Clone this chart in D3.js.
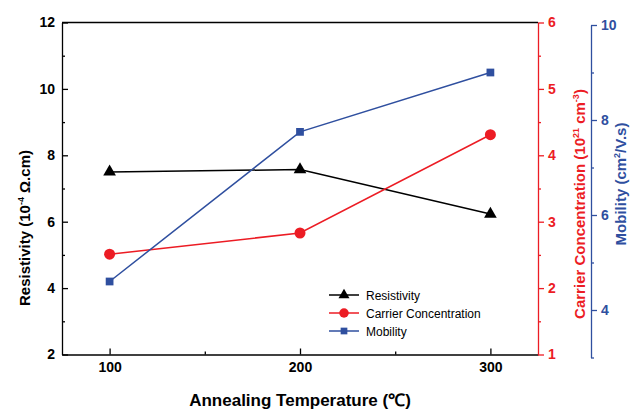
<!DOCTYPE html>
<html>
<head>
<meta charset="utf-8">
<script src="https://cdn.jsdelivr.net/npm/d3@7"></script>
<style>
body { margin: 0; background: #fff; }
text { font-family: "Liberation Sans", Arial, sans-serif; }
</style>
</head>
<body>
<div class="chart"></div>
<script>
var width = 634;
var height = 414;

// data
var temps = [100, 200, 300];
var resistivity = [7.5, 7.57, 6.23];
var carrier = [2.51, 2.83, 4.31];
var mobility = [4.6, 7.75, 9.0];

var xTicks = [100, 200, 300];
var xMinor = [150, 250];
var leftTicks = [2, 4, 6, 8, 10, 12];
var leftMinor = [3, 5, 7, 9, 11];
var redTicks = [1, 2, 3, 4, 5, 6];
var redMinor = [1.5, 2.5, 3.5, 4.5, 5.5];
var blueTicks = [4, 6, 8, 10];
var blueMinor = [3, 5, 7, 9];

var black = "#000";
var red = "#ec1c24";
var blue = "#2f4f9f";

var plot = { left: 62, right: 538, top: 22.5, bottom: 354.5 };

var svg = d3.select(".chart")
	.append("svg")
	.attr("width", width)
	.attr("height", height);

var x = d3.scaleLinear().domain([75, 325]).range([plot.left, plot.right]);
var yLeft = d3.scaleLinear().domain([2, 12]).range([plot.bottom, plot.top]);
var yRed = d3.scaleLinear().domain([1, 6]).range([plot.bottom, plot.top]);
var yBlue = d3.scaleLinear().domain([3, 10]).range([357.5, 25]);

var fmt = d3.format("d");

function styleAxis(g, color) {
	g.selectAll("path, line").attr("stroke", color).attr("stroke-width", 1.3);
	g.selectAll("text")
		.attr("fill", color)
		.style("font-size", "14px")
		.style("font-weight", "bold")
		.style("font-family", "'Liberation Sans', Arial, sans-serif");
}

// top frame line
svg.append("line")
	.attr("x1", plot.left).attr("x2", plot.right)
	.attr("y1", plot.top).attr("y2", plot.top)
	.attr("stroke", black).attr("stroke-width", 1.3);

// bottom axis
var gx = svg.append("g").attr("transform", "translate(0," + plot.bottom + ")")
	.call(d3.axisBottom(x).tickValues(xTicks).tickSize(-6).tickSizeOuter(0).tickPadding(8).tickFormat(fmt));
styleAxis(gx, black);
var gxm = svg.append("g").attr("transform", "translate(0," + plot.bottom + ")")
	.call(d3.axisBottom(x).tickValues(xMinor).tickSize(-3).tickSizeOuter(0).tickFormat(""));
styleAxis(gxm, black);
gxm.select(".domain").remove();

// left axis
var gl = svg.append("g").attr("transform", "translate(" + plot.left + ",0)")
	.call(d3.axisLeft(yLeft).tickValues(leftTicks).tickSize(-6).tickSizeOuter(0).tickPadding(7).tickFormat(fmt));
styleAxis(gl, black);
var glm = svg.append("g").attr("transform", "translate(" + plot.left + ",0)")
	.call(d3.axisLeft(yLeft).tickValues(leftMinor).tickSize(-3).tickSizeOuter(0).tickFormat(""));
styleAxis(glm, black);
glm.select(".domain").remove();

// red right axis
var gr = svg.append("g").attr("transform", "translate(" + plot.right + ",0)")
	.call(d3.axisRight(yRed).tickValues(redTicks).tickSize(6).tickSizeOuter(0).tickPadding(4).tickFormat(fmt));
styleAxis(gr, red);
var grm = svg.append("g").attr("transform", "translate(" + plot.right + ",0)")
	.call(d3.axisRight(yRed).tickValues(redMinor).tickSize(3).tickSizeOuter(0).tickFormat(""));
styleAxis(grm, red);
grm.select(".domain").remove();

// blue offset axis
var gb = svg.append("g").attr("transform", "translate(591,0)")
	.call(d3.axisRight(yBlue).tickValues(blueTicks).tickSize(6).tickSizeOuter(0).tickPadding(4).tickFormat(fmt));
styleAxis(gb, blue);
var gbm = svg.append("g").attr("transform", "translate(591,0)")
	.call(d3.axisRight(yBlue).tickValues(blueMinor).tickSize(3).tickSizeOuter(0).tickFormat(""));
styleAxis(gbm, blue);
gbm.select(".domain").remove();

// axis titles
svg.append("text")
	.attr("x", 300).attr("y", 406)
	.attr("text-anchor", "middle")
	.style("font-size", "17px").style("font-weight", "bold")
	.text("Annealing Temperature (℃)");

function rotTitle(cx, cy, color, parts) {
	var t = svg.append("text")
		.attr("transform", "translate(" + cx + "," + cy + ") rotate(-90)")
		.attr("text-anchor", "middle")
		.attr("fill", color)
		.style("font-size", "15px").style("font-weight", "bold");
	parts.forEach(function(p) {
		var s = t.append("tspan").text(p[0]);
		if (p[1] === "sup") {
			s.style("font-size", "9px").attr("dy", "-6");
		} else if (p[1] === "back") {
			s.attr("dy", "6");
		}
	});
}

rotTitle(30, 228, black, [["Resistivity (10"], ["-4", "sup"], [" Ω.cm)", "back"]]);
rotTitle(585, 204, red, [["Carrier Concentration (10"], ["21", "sup"], [" cm", "back"], ["-3", "sup"], [")", "back"]]);
rotTitle(626, 184, blue, [["Mobility (cm"], ["2", "sup"], ["/V.s)", "back"]]);

// series
var series = [
	{ name: "Resistivity", values: resistivity, scale: yLeft, color: black, symbol: d3.symbolTriangle, size: 70 },
	{ name: "Carrier Concentration", values: carrier, scale: yRed, color: red, symbol: d3.symbolCircle, size: 95 },
	{ name: "Mobility", values: mobility, scale: yBlue, color: blue, symbol: d3.symbolSquare, size: 60 }
];

series.forEach(function(s) {
	var pts = temps.map(function(t, i) { return [t, s.values[i]]; });
	var line = d3.line()
		.x(function(d) { return x(d[0]); })
		.y(function(d) { return s.scale(d[1]); });
	svg.append("path")
		.datum(pts)
		.attr("d", line)
		.attr("fill", "none")
		.attr("stroke", s.color)
		.attr("stroke-width", 1.5);
	svg.selectAll(null)
		.data(pts)
		.enter()
		.append("path")
		.attr("transform", function(d) { return "translate(" + x(d[0]) + "," + s.scale(d[1]) + ")"; })
		.attr("d", d3.symbol().type(s.symbol).size(s.size))
		.attr("fill", s.color);
});

// legend
var legend = svg.append("g").attr("transform", "translate(329,295)");
series.forEach(function(s, i) {
	var g = legend.append("g").attr("transform", "translate(0," + (i * 18) + ")");
	g.append("line").attr("x1", 0).attr("x2", 30).attr("y1", 0).attr("y2", 0)
		.attr("stroke", s.color).attr("stroke-width", 1.5);
	g.append("path").attr("transform", "translate(15,0)")
		.attr("d", d3.symbol().type(s.symbol).size(s.size * 0.75))
		.attr("fill", s.color);
	g.append("text").attr("x", 37).attr("y", 4.5)
		.style("font-size", "12px")
		.text(s.name);
});
</script>
</body>
</html>
